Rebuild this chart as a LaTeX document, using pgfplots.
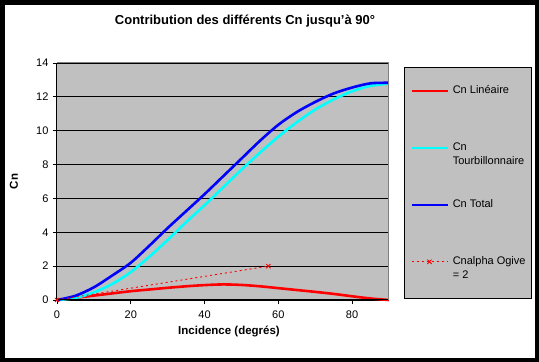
\documentclass[border=0pt]{standalone}
\usepackage{pgfplots}
\pgfplotsset{compat=1.18}
\usepackage{fontspec}
\setmainfont{Liberation Sans}
\definecolor{plotgray}{HTML}{C0C0C0}
\definecolor{framegray}{HTML}{808080}
\definecolor{cRed}{HTML}{FF0000}
\definecolor{cCyan}{HTML}{00FFFF}
\definecolor{cBlue}{HTML}{0000FF}
\begin{document}
\begin{tikzpicture}[x=1pt,y=1pt]
\useasboundingbox (0,0) rectangle (539,362);
\fill[black] (0,0) rectangle (539,362);
\fill[white] (5,4) rectangle (535,357);
\filldraw[fill=plotgray,draw=black,line width=1pt] (404,63) rectangle (531,294);
\node[font=\fontsize{13}{15}\selectfont\bfseries] at (245,341) {Contribution des différents Cn jusqu'à 90°};
\node[font=\fontsize{11.5}{14}\selectfont\bfseries] at (229,30) {Incidence (degrés)};
\node[font=\fontsize{11.5}{14}\selectfont\bfseries,rotate=90] at (14,180.5) {Cn};
\begin{axis}[
  at={(57pt,62pt)}, anchor=south west,
  scale only axis, width=332pt, height=237pt,
  xmin=0, xmax=90, ymin=0, ymax=14,
  xtick={0,20,40,60,80}, ytick={0,2,...,14},
  axis background/.style={fill=plotgray},
  axis line style={draw=none},
  tick align=outside, xtick pos=bottom, ytick pos=left,
  major tick length=4pt,
  tick style={black, line width=0.8pt},
  ymajorgrids, grid style={black, line width=0.8pt},
  ticklabel style={font=\fontsize{11}{14}\selectfont},
  xticklabel style={yshift=-3pt},
  yticklabel style={xshift=-1pt},
  /pgf/number format/assume math mode=true,
  clip=false,
  legend style={draw=none, fill=none, at={(1.0633,0.9135)}, anchor=north west,
    inner sep=0pt, row sep=0pt, column sep=4pt, font=\fontsize{11}{14}\selectfont,
    nodes={inner sep=0pt, text height=9.5pt, text depth=4.75pt}},
  legend cell align=left,
  legend image code/.code={\draw[mark repeat=2,mark phase=2,#1] plot coordinates {(0pt,0pt) (18pt,0pt) (36pt,0pt)};},
]
\addplot[cRed, line width=2.6pt, smooth, forget plot] coordinates {
(0,0) (5,0.13) (10,0.26) (15,0.39) (20,0.52) (25,0.62) (30,0.72) (35,0.81) (40,0.88) (45,0.92)
(50,0.89) (55,0.81) (60,0.70) (65,0.59) (70,0.48) (75,0.36) (80,0.22) (85,0.09) (90,0)};
\addplot[cCyan, line width=2.6pt, smooth, forget plot] coordinates {
(0,0) (5,0.12) (10,0.45) (15,0.95) (20,1.65) (25,2.55) (30,3.55) (35,4.6) (40,5.6) (45,6.65)
(50,7.7) (55,8.7) (60,9.65) (65,10.5) (70,11.25) (75,11.85) (80,12.33) (85,12.65) (90,12.78)};
\addplot[cBlue, line width=2.6pt, smooth, forget plot] coordinates {
(0,0) (5,0.25) (10,0.75) (15,1.45) (20,2.2) (25,3.2) (30,4.25) (35,5.25) (40,6.25) (45,7.3)
(50,8.35) (55,9.4) (60,10.35) (65,11.1) (70,11.7) (75,12.2) (80,12.55) (85,12.8) (90,12.83)};
\addplot[cRed, line width=0.9pt, dash pattern=on 2pt off 3pt, mark=x, mark size=3pt, mark options={solid}, forget plot] coordinates {
(0,0) (57.3,2)};
\draw[black, line width=1pt] (rel axis cs:0,1) -- (rel axis cs:0,0) -- (rel axis cs:1,0);
\draw[framegray, line width=1pt] (rel axis cs:0,1) -- (rel axis cs:1,1) -- (rel axis cs:1,0);
\addlegendimage{cRed, line width=2.6pt}
\addlegendentry{Cn Linéaire}
\addlegendimage{empty legend}\addlegendentry{\mbox{}}
\addlegendimage{empty legend}\addlegendentry{\mbox{}}
\addlegendimage{empty legend}\addlegendentry{\mbox{}}
\addlegendimage{cCyan, line width=2.6pt}
\addlegendentry{Cn}
\addlegendimage{empty legend}\addlegendentry{Tourbillonnaire}
\addlegendimage{empty legend}\addlegendentry{\mbox{}}
\addlegendimage{empty legend}\addlegendentry{\mbox{}}
\addlegendimage{cBlue, line width=2.6pt}
\addlegendentry{Cn Total}
\addlegendimage{empty legend}\addlegendentry{\mbox{}}
\addlegendimage{empty legend}\addlegendentry{\mbox{}}
\addlegendimage{empty legend}\addlegendentry{\mbox{}}
\addlegendimage{cRed, line width=0.9pt, dash pattern=on 2pt off 3pt, mark=x, mark size=3pt, mark options={solid}}
\addlegendentry{Cnalpha Ogive}
\addlegendimage{empty legend}\addlegendentry{= 2}
\end{axis}
\end{tikzpicture}
\end{document}
